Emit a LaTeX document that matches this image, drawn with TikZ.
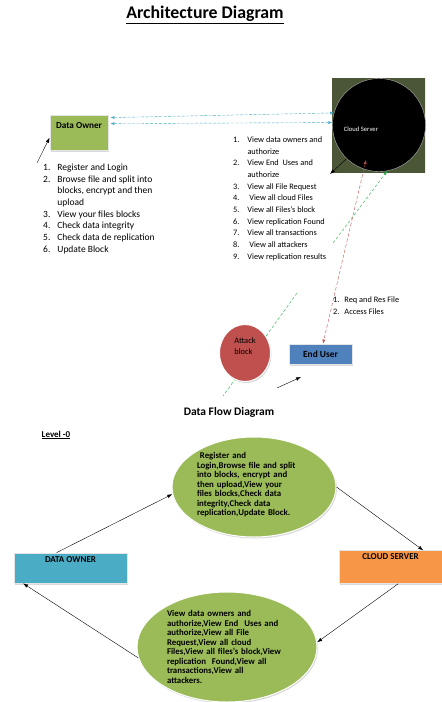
\documentclass[tikz,border=0pt]{standalone}
\usepackage{fontspec}
\setmainfont{Carlito}
\usetikzlibrary{arrows.meta,shapes.geometric,shadows,calc}
\definecolor{ownergreen}{HTML}{9BBB59}
\definecolor{linkcyan}{HTML}{4BACC6}
\definecolor{attackred}{HTML}{C0504D}
\definecolor{userblue}{HTML}{4F81BD}
\definecolor{serverorange}{HTML}{F79646}
\definecolor{serverolive}{HTML}{4A5636}
\definecolor{linkgreen}{HTML}{22B24C}
\begin{document}
\begin{tikzpicture}[x=1pt,y=-1pt,
  box/.style={draw=white!80!gray,line width=0.8pt,drop shadow={shadow xshift=1pt,shadow yshift=-1.5pt,opacity=0.3}},
  blob/.style={ellipse,draw=white,line width=1pt,inner sep=0pt,drop shadow={shadow xshift=1pt,shadow yshift=-1.5pt,opacity=0.3}},
  plain/.style={-{Latex[length=5pt,width=3.5pt]},thin},
  listtext/.style={anchor=north west,inner sep=0pt,font=\fontsize{8.3}{11.7}\selectfont},
  flowtext/.style={font=\fontsize{8.8}{9.5}\selectfont\bfseries,align=left}]
\useasboundingbox (0,0) rectangle (442,702);
\node[font=\fontsize{17.8}{20}\selectfont\bfseries] (title) at (205,15) {\underline{Architecture Diagram}};
\node[box,fill=ownergreen,minimum width=58,minimum height=35,text depth=14pt,font=\fontsize{9.2}{10}\selectfont\bfseries] (own) at (79,132.5) {Data Owner};
\node[rectangle,minimum width=93,minimum height=94,inner color=black,outer color=serverolive] (srvbg) at (378.5,125) {};
\node[circle,fill=black,draw=gray!60,thin,minimum size=93,inner sep=0pt] (srv) at (379,125) {};
\node[font=\fontsize{6.6}{7}\selectfont,text=white] (srvtext) at (361,129) {Cloud Server};
\draw[linkcyan,dash pattern=on 3pt off 1.5pt,{Latex[length=4pt,width=3pt]}-{Latex[length=4pt,width=3pt]}] ($(own.north east)+(2,3)$) -- (srv.165);
\draw[linkcyan,dash pattern=on 3pt off 1.5pt,{Latex[length=4pt,width=3pt]}-{Latex[length=4pt,width=3pt]}] ($(own.north east)+(2,9)$) -- (srv.177);
\coordinate (owntail) at (37,163);
\draw[plain] (owntail) -- (own.190);
\coordinate (srvtail) at (330,174);
\draw[plain] (srv.226) -- (srvtail);
\node[listtext,font=\fontsize{9.5}{11.7}\selectfont] (ownlist) at (43,162) {\begin{tabular}{@{}l@{\hspace{7pt}}l@{}}
1. & Register and Login\\
2. & Browse file and split into\\
   & blocks, encrypt and then\\
   & upload\\
3. & View your files blocks\\
4. & Check data integrity\\
5. & Check data de replication\\
6. & Update Block\end{tabular}};
\node[listtext] (srvlist) at (233,134) {\begin{tabular}{@{}l@{\hspace{8pt}}l@{}}
1. & View data owners and\\
   & authorize\\
2. & View End\ \ Uses and\\
   & authorize\\
3. & View all File Request\\
4. & \ View all cloud Files\\
5. & View all Files's block\\
6. & View replication Found\\
7. & View all transactions\\
8. & \ View all attackers\\
9. & View replication results\end{tabular}};
\coordinate (gtop) at (297,293);
\coordinate (gbot) at (223,396);
\draw[linkgreen,dash pattern=on 3pt off 2pt] (gtop) -- (gbot);
\node[blob,fill=attackred,minimum width=51,minimum height=57,text depth=14pt,align=left,font=\fontsize{8.4}{11}\selectfont] (atk) at (245,353) {Attack\\block};
\node[box,fill=userblue,minimum width=63,minimum height=20,font=\fontsize{9.4}{10}\selectfont\bfseries] (usr) at (320.5,354) {End User};
\coordinate (gtail) at (333,243);
\draw[linkgreen,dash pattern=on 3pt off 2pt,-{Latex[length=4pt,width=3pt]}] (gtail) -- (srv.280);
\coordinate (srvred) at (366,160);
\draw[attackred,dash pattern=on 3.5pt off 2pt,{Latex[length=4pt,width=3pt]}-{Latex[length=4pt,width=3pt]}] (srvred) -- ([xshift=2.5pt]usr.north);
\node[listtext] (usrlist) at (333,294) {\begin{tabular}{@{}l@{\hspace{5pt}}l@{}}
1. & Req and Res File\\
2. & Access Files\end{tabular}};
\coordinate (usrtail) at (277,388);
\coordinate (usrhead) at (301,377);
\draw[plain] (usrtail) -- (usrhead);
\node[font=\fontsize{11.5}{13}\selectfont\bfseries] (dfd) at (229,412) {Data Flow Diagram};
\node[font=\fontsize{9}{10}\selectfont\bfseries] (level) at (56,435) {\underline{Level -0}};
\node[blob,fill=ownergreen,minimum width=164,minimum height=100] (upper) at (254,487) {};
\node[flowtext,text width=112pt] (uppertext) at (253,485) {\ Register and\\Login,Browse file and split\\into blocks, encrypt and\\then upload,View your\\files blocks,Check data\\integrity,Check data\\replication,Update Block.};
\node[blob,fill=ownergreen,minimum width=180,minimum height=110] (lower) at (227,647) {};
\node[flowtext,text width=122pt] (lowertext) at (228,647) {View data owners and\\authorize,View End\ \ Uses and\\authorize,View all File\\Request,View all cloud\\Files,View all files's block,View\\replication\ \ Found,View all\\transactions,View all\\attackers.};
\node[box,fill=linkcyan,minimum width=113,minimum height=30,text depth=16pt,font=\fontsize{9}{10}\selectfont\bfseries] (ownbox) at (70.5,568) {DATA OWNER};
\node[box,fill=serverorange,minimum width=103,minimum height=32,text depth=20pt,font=\fontsize{9}{10}\selectfont\bfseries] (srvbox) at (390.5,567) {CLOUD SERVER};
\draw[plain] (ownbox.132) -- (upper.185);
\draw[plain] (upper.east) -- (srvbox.27);
\draw[plain] (srvbox.295) -- (lower.3);
\draw[plain] (lower.187) -- (ownbox.198);
\end{tikzpicture}
\end{document}
